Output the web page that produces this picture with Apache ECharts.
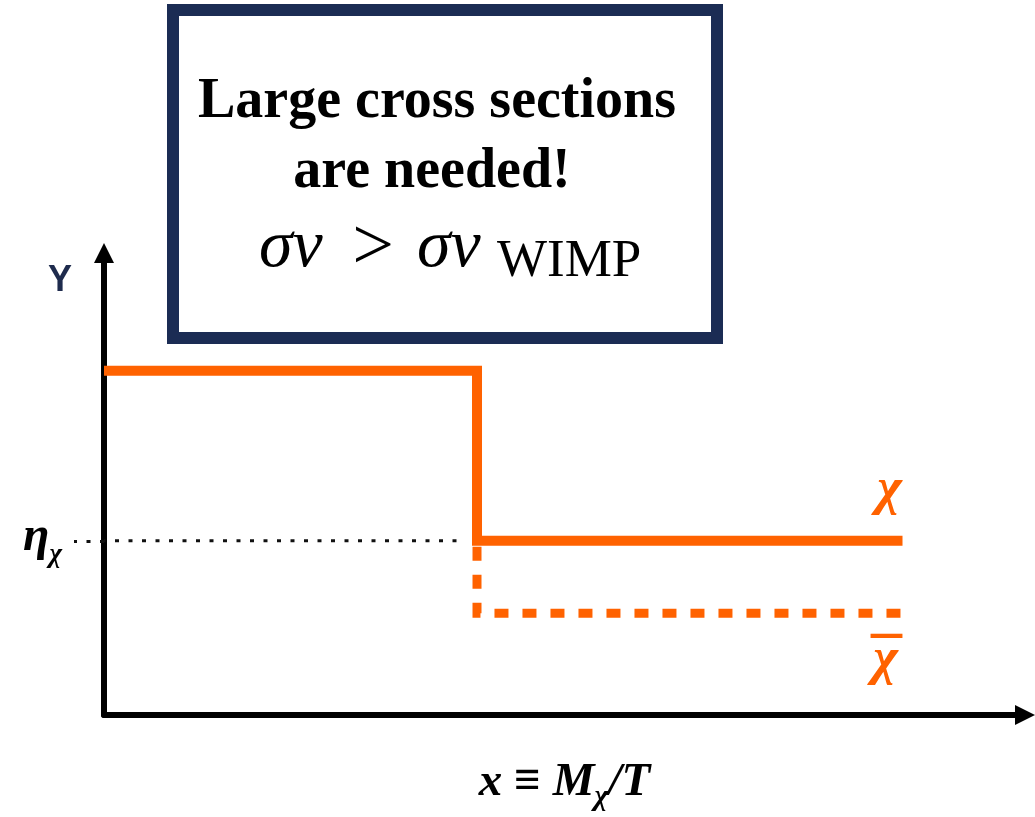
<!DOCTYPE html>
<html>
<head>
<meta charset="utf-8">
<script src="https://cdn.jsdelivr.net/npm/echarts@6/dist/echarts.min.js"></script>
<style>
  html, body { margin: 0; padding: 0; background: #fff; }
  #chart { width: 1035px; height: 817px; }
</style>
</head>
<body>
<div id="chart"></div>
<script>
// Comoving abundance Y against x = M/T: chi freezes out at the step,
// its antiparticle keeps annihilating down to a lower plateau.
const chiX = [0, 4.05, 4.05, 8.67];
const chiY = [7.45, 7.45, 3.77, 3.77];
const chiBarX = [4.05, 4.05, 8.67];
const chiBarY = [3.77, 2.2, 2.2];
const etaGuideX = [0, 3.93];
const etaGuideY = [3.77, 3.77];
const etaTicks = [3.77];
const xRange = [0, 10];
const yRange = [0, 10];

const ORANGE = '#ff6200';
const NAVY = '#1b2c54';
const SERIF = '"Liberation Serif", "Times New Roman", serif';
const SANS = '"Liberation Sans", Arial, sans-serif';

const pairs = (xs, ys) => xs.map((x, i) => [x, ys[i]]);
const last = (xs) => xs[xs.length - 1];

// invisible anchors at a curve's end that only carry text labels
function endMarks(xs, ys, labels) {
  return {
    symbol: 'circle',
    symbolSize: 1,
    itemStyle: { color: 'transparent' },
    data: labels.map((label) => ({ coord: [last(xs), last(ys)], label: label }))
  };
}

const chiFont = { fontFamily: SERIF, fontStyle: 'italic', fontWeight: 'bold', fontSize: 53, color: ORANGE };

const chart = echarts.init(document.getElementById('chart'), null, { renderer: 'canvas' });

chart.setOption({
  animation: false,
  backgroundColor: '#fff',
  grid: { left: 104, right: 10, top: 253, bottom: 102, outerBoundsMode: 'none' },
  xAxis: {
    type: 'value',
    min: xRange[0],
    max: xRange[1],
    splitLine: { show: false },
    axisTick: { show: false },
    axisLabel: { show: false },
    axisLine: {
      lineStyle: { color: '#000', width: 6 },
      symbol: ['none', 'triangle'],
      symbolSize: [20, 20]
    },
    name: '{m|x }{r|≡}{m| M}{s|χ}{m|/T}',
    nameLocation: 'middle',
    nameGap: 39,
    nameTextStyle: {
      rich: {
        m: { fontFamily: SERIF, fontStyle: 'italic', fontWeight: 'bold', fontSize: 47, color: '#000' },
        r: { fontFamily: SERIF, fontWeight: 'bold', fontSize: 47, color: '#000' },
        s: { fontFamily: SERIF, fontStyle: 'italic', fontWeight: 'bold', fontSize: 30, color: '#000', padding: [28, 0, 0, 0] }
      }
    }
  },
  yAxis: {
    type: 'value',
    min: yRange[0],
    max: yRange[1],
    splitLine: { show: false },
    axisLine: {
      lineStyle: { color: '#000', width: 6 },
      symbol: ['none', 'triangle'],
      symbolSize: [20, 20]
    },
    // dotted guide continues to the left of the axis at the eta level
    axisTick: {
      show: true,
      customValues: etaTicks,
      length: 30,
      lineStyle: { color: '#111', width: 3, type: [4, 9.5] }
    },
    axisLabel: {
      show: true,
      customValues: etaTicks,
      margin: 42,
      formatter: () => '{e|η}{s|χ}',
      rich: {
        e: { fontFamily: SERIF, fontStyle: 'italic', fontWeight: 'bold', fontSize: 48, color: '#000', padding: [0, 0, 6, 0] },
        s: { fontFamily: SERIF, fontStyle: 'italic', fontWeight: 'bold', fontSize: 27, color: '#000', padding: [28, 0, 0, 0] }
      }
    }
  },
  series: [
    {
      name: 'eta guide',
      type: 'line',
      data: pairs(etaGuideX, etaGuideY),
      symbol: 'none',
      z: 1,
      lineStyle: { color: '#111', width: 3, type: [4, 9.5], dashOffset: -11, cap: 'butt' }
    },
    {
      name: 'chi bar',
      type: 'line',
      data: pairs(chiBarX, chiBarY),
      symbol: 'none',
      z: 2,
      lineStyle: { color: ORANGE, width: 9, type: [14, 14], dashOffset: 22, cap: 'butt', join: 'miter' },
      markPoint: endMarks(chiBarX, chiBarY, [
        Object.assign({ show: true, position: 'bottom', distance: 20, offset: [-17, 0], formatter: 'χ' }, chiFont),
        { show: true, position: 'inside', offset: [-16, 21], formatter: '–', fontFamily: SERIF, fontWeight: 'bold', fontSize: 62, color: ORANGE }
      ])
    },
    {
      name: 'chi',
      type: 'line',
      data: pairs(chiX, chiY),
      symbol: 'none',
      z: 3,
      lineStyle: { color: ORANGE, width: 10, cap: 'butt', join: 'miter' },
      markPoint: endMarks(chiX, chiY, [
        Object.assign({ show: true, position: 'top', distance: 24, offset: [-13, 0], formatter: 'χ' }, chiFont)
      ])
    }
  ],
  graphic: [
    {
      type: 'text',
      x: 60, y: 281,
      style: { text: 'Y', fontFamily: SANS, fontWeight: 'bold', fontSize: 36, fill: '#1e2b4d', align: 'center', verticalAlign: 'middle' }
    },
    {
      type: 'group',
      children: [
        {
          type: 'rect',
          shape: { x: 173, y: 10, width: 544, height: 328 },
          style: { fill: '#fff', stroke: NAVY, lineWidth: 12 }
        },
        {
          type: 'text', x: 437, y: 103,
          style: { text: 'Large cross sections', fontFamily: SERIF, fontWeight: 'bold', fontSize: 56, fill: '#000', align: 'center', verticalAlign: 'middle' }
        },
        {
          type: 'text', x: 432, y: 173,
          style: { text: 'are needed!', fontFamily: SERIF, fontWeight: 'bold', fontSize: 56, fill: '#000', align: 'center', verticalAlign: 'middle' }
        },
        {
          type: 'text', x: 259, y: 248,
          style: { text: 'σv', fontFamily: SERIF, fontStyle: 'italic', fontSize: 68, fill: '#000', align: 'left', verticalAlign: 'middle' }
        },
        {
          type: 'text', x: 373, y: 250,
          style: { text: '>', fontFamily: SERIF, fontSize: 74, fill: '#000', align: 'center', verticalAlign: 'middle' }
        },
        {
          type: 'text', x: 417, y: 248,
          style: { text: 'σv', fontFamily: SERIF, fontStyle: 'italic', fontSize: 68, fill: '#000', align: 'left', verticalAlign: 'middle' }
        },
        {
          type: 'text', x: 497, y: 262,
          style: { text: 'WIMP', fontFamily: SERIF, fontSize: 53, fill: '#000', align: 'left', verticalAlign: 'middle' }
        }
      ]
    }
  ]
});
</script>
</body>
</html>
